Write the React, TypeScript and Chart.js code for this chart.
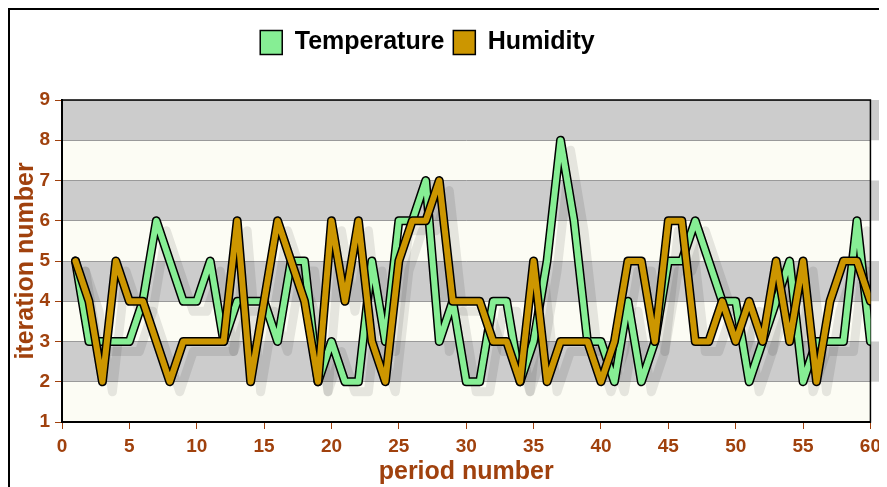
import React, { useEffect, useRef } from "react";
import { Chart, registerables } from "chart.js";

Chart.register(...registerables);

const periods = [
  1, 2, 3, 4, 5, 6, 7, 8, 9, 10, 11, 12, 13, 14, 15, 16, 17, 18, 19, 20,
  21, 22, 23, 24, 25, 26, 27, 28, 29, 30, 31, 32, 33, 34, 35, 36, 37, 38, 39, 40,
  41, 42, 43, 44, 45, 46, 47, 48, 49, 50, 51, 52, 53, 54, 55, 56, 57, 58, 59, 60,
];
const temperature = [
  5, 3, 3, 3, 3, 4, 6, 5, 4, 4, 5, 3, 4, 4, 4, 3, 5, 5, 2, 3,
  2, 2, 5, 3, 6, 6, 7, 3, 4, 2, 2, 4, 4, 2, 3, 5, 8, 6, 3, 3,
  2, 4, 2, 3, 5, 5, 6, 5, 4, 4, 2, 3, 4, 5, 2, 3, 3, 3, 6, 3,
];
const humidity = [
  5, 4, 2, 5, 4, 4, 3, 2, 3, 3, 3, 3, 6, 2, 4, 6, 5, 4, 2, 6,
  4, 6, 3, 2, 5, 6, 6, 7, 4, 4, 4, 3, 3, 2, 5, 2, 3, 3, 3, 2,
  3, 5, 5, 3, 6, 6, 3, 3, 4, 3, 4, 3, 5, 3, 5, 2, 4, 5, 5, 4,
];
const seriesNames = ["Temperature", "Humidity"];
const grayBands = [[2, 3], [4, 5], [6, 7], [8, 9]];
const creamBands = [[1, 2], [3, 4], [5, 6], [7, 8]];

const GREEN = "#86ee94";
const GOLD = "#cc9600";
const BROWN = "#a0410d";
const FONT = "'Liberation Sans Narrow', 'Arial Narrow', 'Liberation Sans', Arial, sans-serif";

const toPoints = (ys: number[]) => periods.map((p, i) => ({ x: p, y: ys[i] }));

const bandsPlugin = {
  id: "bands",
  beforeDraw(chart: any) {
    const { ctx, chartArea, scales } = chart;
    const y = scales.y;
    ctx.save();
    ctx.fillStyle = "#fcfcf4";
    creamBands.forEach(([a, b]) => {
      const top = y.getPixelForValue(b);
      const bot = y.getPixelForValue(a);
      ctx.fillRect(chartArea.left, top, chartArea.right - chartArea.left, bot - top);
    });
    ctx.fillStyle = "#cccccc";
    grayBands.forEach(([a, b]) => {
      const top = y.getPixelForValue(b);
      const bot = y.getPixelForValue(a);
      ctx.fillRect(chartArea.left, top, chartArea.right - chartArea.left + 12, bot - top);
    });
    ctx.restore();
  },
  beforeDatasetsDraw(chart: any) {
    const { ctx, chartArea } = chart;
    ctx.save();
    ctx.beginPath();
    ctx.rect(chartArea.left, chartArea.top, chartArea.right - chartArea.left, chartArea.bottom - chartArea.top);
    ctx.clip();
    ctx.translate(10, 10);
    ctx.lineJoin = "round";
    ctx.lineCap = "round";
    ctx.lineWidth = 9;
    ctx.strokeStyle = "rgba(0,0,0,0.09)";
    chart.data.datasets.forEach((ds: any, i: number) => {
      if (!ds.isOutline) return;
      const meta = chart.getDatasetMeta(i);
      ctx.beginPath();
      meta.data.forEach((pt: any, j: number) => {
        if (j === 0) ctx.moveTo(pt.x, pt.y);
        else ctx.lineTo(pt.x, pt.y);
      });
      ctx.stroke();
    });
    ctx.restore();
    ctx.save();
    ctx.strokeStyle = "#000";
    ctx.lineWidth = 1.5;
    ctx.strokeRect(chartArea.left, chartArea.top, chartArea.right - chartArea.left, chartArea.bottom - chartArea.top);
    ctx.restore();
  },
};

const legendShiftPlugin = {
  id: "legendShift",
  beforeInit(chart: any) {
    const legend = chart.legend;
    if (!legend) return;
    const origFit = legend.fit;
    legend.fit = function () {
      origFit.call(this);
      this.height = 79;
    };
  },
  afterLayout(chart: any) {
    if (chart.legend) chart.legend.right -= 28;
  },
};

export default function App() {
  const ref = useRef<HTMLCanvasElement | null>(null);
  useEffect(() => {
    document.documentElement.style.overflow = "hidden";
    document.body.style.overflow = "hidden";
    if (!ref.current) return;
    const common = {
      pointRadius: 0,
      pointHoverRadius: 0,
      tension: 0,
      borderJoinStyle: "round" as const,
      borderCapStyle: "round" as const,
    };
    const chart = new Chart(ref.current, {
      type: "line",
      data: {
        datasets: [
          { ...common, label: seriesNames[1], data: toPoints(humidity), borderColor: GOLD, backgroundColor: GOLD, borderWidth: 6 },
          { ...common, label: seriesNames[1] + " outline", isOutline: true, data: toPoints(humidity), borderColor: "#000", backgroundColor: "#000", borderWidth: 9 } as any,
          { ...common, label: seriesNames[0], data: toPoints(temperature), borderColor: GREEN, backgroundColor: GREEN, borderWidth: 6 },
          { ...common, label: seriesNames[0] + " outline", isOutline: true, data: toPoints(temperature), borderColor: "#000", backgroundColor: "#000", borderWidth: 9 } as any,
        ],
      },
      options: {
        animation: false,
        responsive: false,
        maintainAspectRatio: false,
        layout: { padding: { top: 11, right: 14, left: 0, bottom: 0 } },
        plugins: {
          tooltip: { enabled: false },
          legend: {
            position: "top",
            reverse: true,
            labels: {
              filter: (item: any) => !item.text.endsWith("outline"),
              generateLabels: (ch: any) =>
                ch.data.datasets.map((ds: any, i: number) => ({
                  text: ds.label,
                  fillStyle: ds.borderColor,
                  strokeStyle: "#000",
                  lineWidth: 1.5,
                  datasetIndex: i,
                  hidden: false,
                  fontColor: "#000",
                })),
              boxWidth: 22,
              boxHeight: 24,
              padding: 9,
              color: "#000",
              font: { family: FONT, size: 25, weight: "bold" },
            },
          },
        },
        scales: {
          x: {
            type: "linear",
            min: 0,
            max: 60,
            ticks: { stepSize: 5, color: BROWN, padding: 6, font: { family: FONT, size: 19, weight: "bold" } },
            grid: { drawOnChartArea: false, drawTicks: true, tickLength: 7, tickColor: BROWN, color: BROWN },
            border: { display: true, color: "#000", width: 2 },
            title: { display: true, text: "period number", color: BROWN, padding: { top: 0, bottom: 0 }, font: { family: FONT, size: 25, weight: "bold" } },
            afterFit: (s: any) => { s.height = 65; },
          },
          y: {
            type: "linear",
            min: 1,
            max: 9,
            ticks: { stepSize: 1, color: BROWN, padding: 5, font: { family: FONT, size: 19, weight: "bold" } },
            grid: { color: "#9a9a9a", lineWidth: 1, drawTicks: true, tickLength: 7, tickColor: BROWN },
            border: { display: true, color: "#000", width: 2 },
            title: { display: true, text: "iteration number", color: BROWN, padding: { top: 1, bottom: 0 }, font: { family: FONT, size: 25, weight: "bold" } },
            afterFit: (s: any) => { s.width = 52; },
          },
        },
      },
      plugins: [bandsPlugin, legendShiftPlugin],
    } as any);
    return () => chart.destroy();
  }, []);

  return (
    <div style={{ width: 877, height: 477, borderLeft: "2px solid #000", borderTop: "2px solid #000" }}>
      <canvas ref={ref} width={877} height={477} style={{ display: "block", width: 877, height: 477 }} />
    </div>
  );
}
